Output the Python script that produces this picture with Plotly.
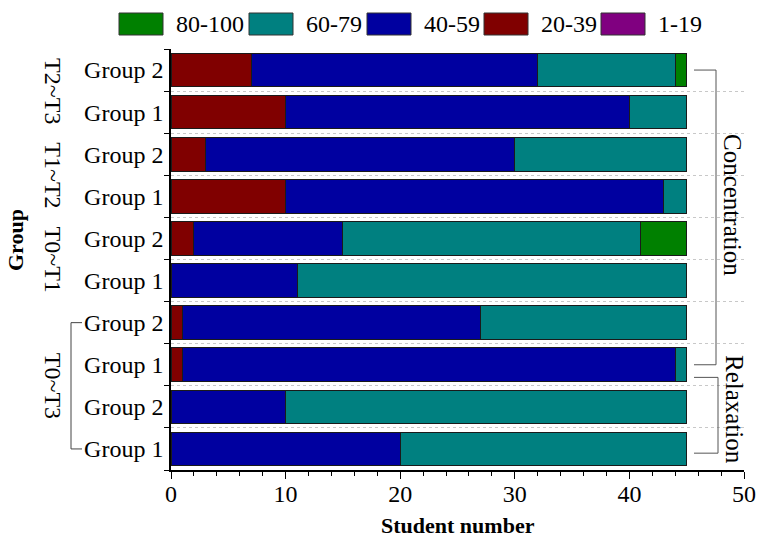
import plotly.graph_objects as go

# Rows from bottom to top of the chart
periods = ["T0~T3", "T0~T3", "T0~T3", "T0~T3", "T0~T1", "T0~T1",
           "T1~T2", "T1~T2", "T2~T3", "T2~T3"]
groups = ["Group 1", "Group 2", "Group 1", "Group 2", "Group 1", "Group 2",
          "Group 1", "Group 2", "Group 1", "Group 2"]

# Student counts per score band (stacked left to right)
band_names = ["1-19", "20-39", "40-59", "60-79", "80-100"]
band_1_19 = [0, 0, 0, 0, 0, 0, 0, 0, 0, 0]
band_20_39 = [0, 0, 1, 1, 0, 2, 10, 3, 10, 7]
band_40_59 = [20, 10, 43, 26, 11, 13, 33, 27, 30, 25]
band_60_79 = [25, 35, 1, 18, 34, 26, 2, 15, 5, 12]
band_80_100 = [0, 0, 0, 0, 0, 4, 0, 0, 0, 1]
band_colors = ["#800080", "#800000", "#0000A0", "#008080", "#008000"]

x_ticks = [0, 10, 20, 30, 40, 50]

FONT = "Liberation Serif"
band_values = [band_1_19, band_20_39, band_40_59, band_60_79, band_80_100]
rows = list(range(len(groups)))

fig = go.Figure()
for name, vals, color in zip(band_names, band_values, band_colors):
    fig.add_trace(go.Bar(
        x=vals, y=rows, orientation="h", name=name,
        marker=dict(color=color, line=dict(color="#1a1a1a", width=1)),
        width=0.8, showlegend=False,
    ))

# plot-area geometry in pixels (used to place decorations)
L, R, T, B = 171, 744, 49, 470
W, H = R - L, B - T


def px(p):
    return (p - L) / W


def py(p):
    return (B - p) / H


def label(x, y, text, size=24, angle=0, xref="paper", yref="paper", xanchor="center"):
    return dict(xref=xref, yref=yref, x=x, y=y, text=text, showarrow=False,
                textangle=angle, xanchor=xanchor, yanchor="middle",
                font=dict(family=FONT, size=size, color="black"))


shapes = []
annotations = []

# legend drawn as swatches + labels, in the order 80-100 ... 1-19
legend_x = [119, 249, 367, 484, 601]
for i, k in enumerate(reversed(range(len(band_names)))):
    x0 = legend_x[i]
    shapes.append(dict(type="rect", xref="paper", yref="paper",
                       x0=px(x0), x1=px(x0 + 44), y0=py(35), y1=py(13),
                       fillcolor=band_colors[k],
                       line=dict(color="#333333", width=1)))
    annotations.append(label(px(x0 + 55), py(24), band_names[k], xanchor="left"))

# period labels on the left
period_order = []
for p in periods:
    if p not in period_order:
        period_order.append(p)
for p in period_order:
    idx = [i for i, q in enumerate(periods) if q == p]
    annotations.append(label(px(53), sum(idx) / len(idx), p, angle=90, yref="y"))

# bracket joining the T0~T3 rows
br = "#444444"
shapes += [
    dict(type="line", xref="paper", yref="y", x0=px(71), x1=px(71), y0=0, y1=3,
         line=dict(color=br, width=1)),
    dict(type="line", xref="paper", yref="y", x0=px(71), x1=px(82), y0=3, y1=3,
         line=dict(color=br, width=1)),
    dict(type="line", xref="paper", yref="y", x0=px(71), x1=px(82), y0=0, y1=0,
         line=dict(color=br, width=1)),
]

# right-hand brackets
rb = "#555555"
for (ytop, ybot, xv) in [(9, 2, 716), (1.7, -0.1, 718)]:
    shapes += [
        dict(type="line", xref="paper", yref="y", x0=px(694), x1=px(xv), y0=ytop, y1=ytop,
             line=dict(color=rb, width=1)),
        dict(type="line", xref="paper", yref="y", x0=px(xv), x1=px(xv), y0=ytop, y1=ybot,
             line=dict(color=rb, width=1)),
        dict(type="line", xref="paper", yref="y", x0=px(694), x1=px(xv), y0=ybot, y1=ybot,
             line=dict(color=rb, width=1)),
    ]
annotations.append(label(px(733), py(205), "Concentration", size=25, angle=90))
annotations.append(label(px(735), py(409), "Relaxation", size=25, angle=90))

# axis titles
annotations.append(label(px(16), py(240), "<b>Group</b>", size=22, angle=-90))
annotations.append(label(px((L + R) / 2), py(525), "<b>Student number</b>", size=22))

fig.update_layout(
    barmode="stack",
    width=759, height=539,
    margin=dict(l=L, r=759 - R, t=T, b=539 - B, pad=0, autoexpand=False),
    paper_bgcolor="white", plot_bgcolor="white",
    font=dict(family=FONT, size=24, color="black"),
    shapes=shapes, annotations=annotations,
    xaxis=dict(range=[0, 50], tickvals=x_ticks, ticks="outside", ticklen=7,
               tickwidth=1.2, tickcolor="black", automargin=False,
               ticklabelstandoff=-6,
               showline=True, linecolor="black", linewidth=1.5,
               showgrid=False, zeroline=False,
               minor=dict(dtick=2, tick0=0, ticks="outside", ticklen=4,
                          tickcolor="black", tickwidth=1),
               tickfont=dict(family=FONT, size=24, color="black")),
    yaxis=dict(range=[-0.5, len(groups) - 0.5], tickvals=rows, ticktext=groups,
               ticks="outside", ticklen=5, tickcolor="rgba(0,0,0,0)",
               automargin=False, ticklabelstandoff=-4,
               showline=True, linecolor="black", linewidth=1.5,
               showgrid=False, zeroline=False,
               minor=dict(tickvals=[i - 0.5 for i in range(len(groups) + 1)],
                          ticks="outside", ticklen=5, tickcolor="black", tickwidth=1.2,
                          showgrid=True, gridcolor="#c8c8c8", griddash="dot",
                          gridwidth=1),
               tickfont=dict(family=FONT, size=24, color="black")),
)

fig.write_html("out.html")
